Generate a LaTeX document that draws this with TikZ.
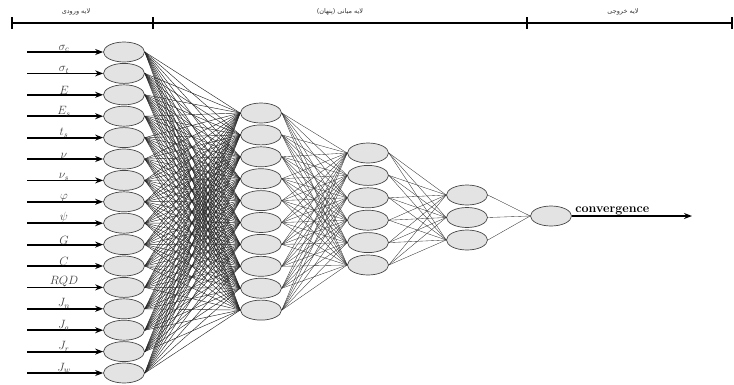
\documentclass[tikz,border=0pt]{standalone}
\usepackage{fontspec}
\usepackage{amsmath}
\usepackage{tikz}
\usetikzlibrary{arrows.meta,shapes.geometric,positioning}
\newfontfamily\farsifont[Script=Arabic]{DejaVu Sans}
\TeXXeTstate=1

\begin{document}
\begin{tikzpicture}[
x=1pt,y=-1pt,
neuron/.style={ellipse,draw=gray!55!black,fill=gray!22,line width=0.7pt,minimum width=41pt,minimum height=20pt,inner sep=0pt},
wire/.style={draw=black!80,line width=0.35pt},
densewire/.style={draw=black!85,line width=0.45pt},
inarrow/.style={line width=1.8pt,-{Stealth[length=8pt,width=6pt]}},
layertext/.style={font=\farsifont\fontsize{6.5}{7}\selectfont,text=black!80},
inlabel/.style={font=\fontsize{12}{13}\selectfont,text=black!75,inner sep=1pt}
]
    \useasboundingbox (0,0) rectangle (734,384);

    % Draw layer bar
    \draw
  	(12,23) coordinate (b0)
  	(153,23) coordinate (b1)
  	(527,23) coordinate (b2)
  	(732,23) coordinate (b3);
    \draw[line width=1.8pt] (b0) -- (b3);
    \foreach \b in {b0,b1,b2,b3}
        \draw[line width=1.4pt] ([yshift=-6pt]\b) -- ([yshift=6pt]\b);

    \node[layertext] (lin) at (76,12) {\beginR لایه ورودی\endR};
    \node[layertext] (lhid) at (340,12) {\beginR لایه میانی (پنهان)\endR};
    \node[layertext] (lout) at (623,12) {\beginR لایه خروجی\endR};

    % Draw neurons
    \foreach \i in {1,...,16}
        \node[neuron] (i\i) at (124,{52+(\i-1)*21.4}) {};
    \foreach \i in {1,...,10}
        \node[neuron] (h\i) at (261,{113+(\i-1)*21.9}) {};
    \foreach \i in {1,...,6}
        \node[neuron] (m\i) at (368,{153+(\i-1)*22.4}) {};
    \foreach \i in {1,...,3}
        \node[neuron] (k\i) at (467,{195+(\i-1)*22.5}) {};
    \node[neuron] (o) at (551,216) {};

    % Draw weights
    \foreach \i in {1,...,16}
        \foreach \j in {1,...,10}
            \draw[densewire] (i\i.east) -- (h\j.west);
    \foreach \i in {1,...,10}
        \foreach \j in {1,...,6}
            \draw[wire] (h\i.east) -- (m\j.west);
    \foreach \i in {1,...,6}
        \foreach \j in {1,...,3}
            \draw[wire] (m\i.east) -- (k\j.west);
    \foreach \i in {1,...,3}
        \draw[wire] (k\i.east) -- (o.west);

    % Draw inputs
    \foreach \i/\t in {1/\sigma_c,2/\sigma_t,3/E,4/E_s,5/t_s,6/\nu,7/\nu_s,8/\varphi,
                       9/\psi,10/G,11/C,12/RQD,13/J_n,14/J_a,15/J_r,16/J_w}
    {
        \coordinate (in\i) at (27,{52+(\i-1)*21.4});
        \draw[inarrow] (in\i) -- (i\i.west);
        \node[inlabel,above=-1pt of in\i,xshift=37pt] (t\i) {$\t$};
    }

    % Draw output
    \coordinate (out) at (692,216);
    \draw[inarrow] (o.east) -- (out);
    \node[font=\bfseries\fontsize{12.5}{14}\selectfont,above right=-3pt and 0pt of o.east] (conv) {convergence};

\end{tikzpicture}
\end{document}
